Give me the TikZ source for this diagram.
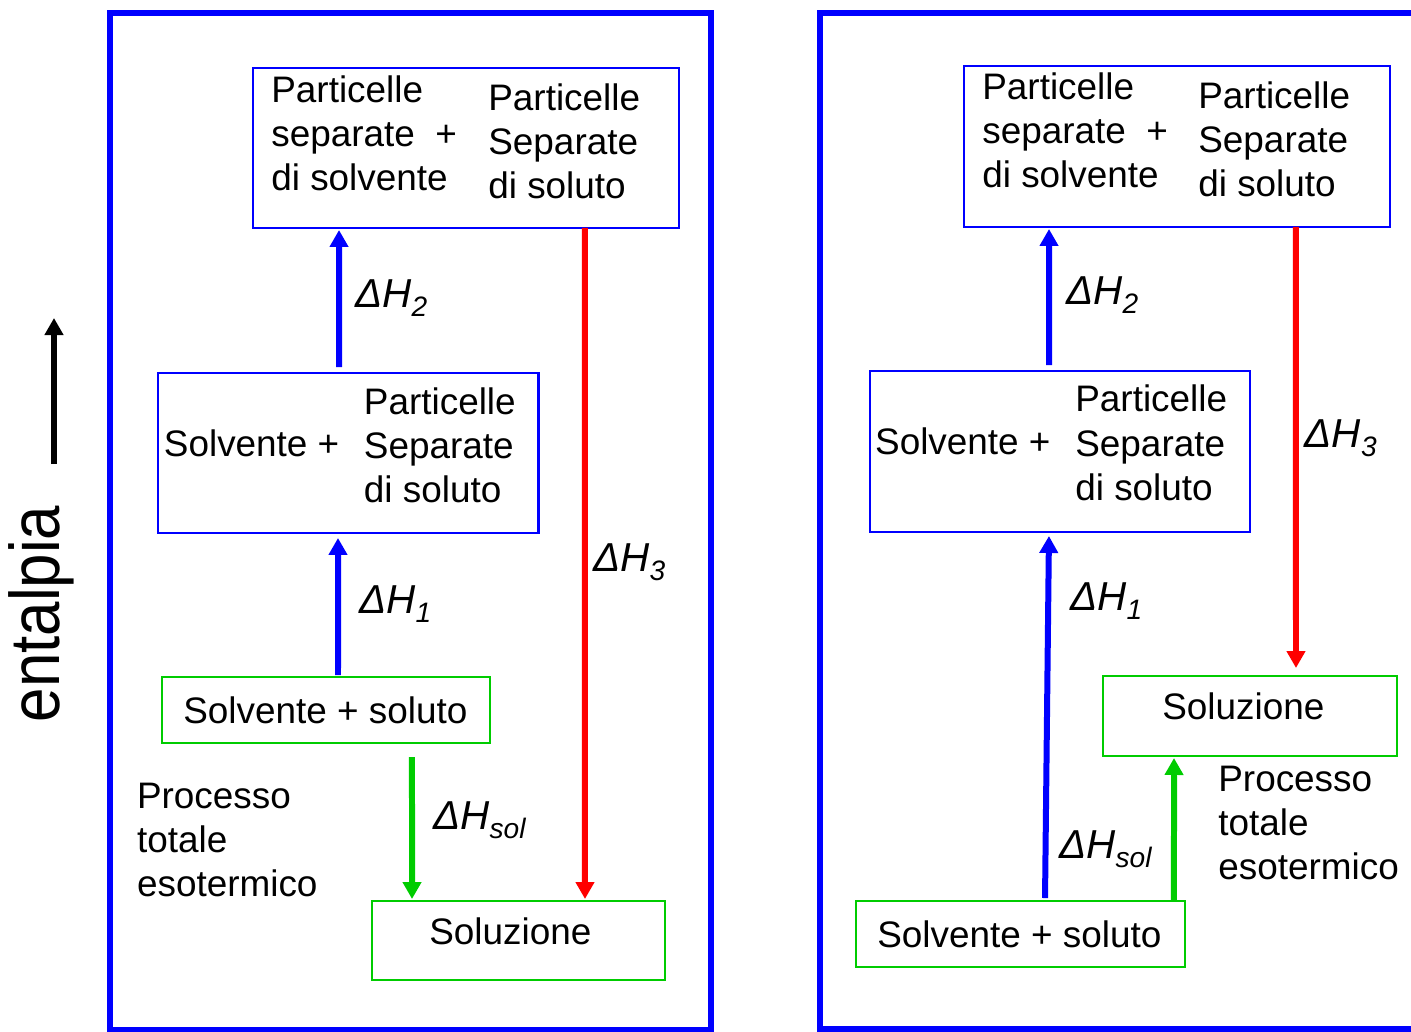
\documentclass[tikz,border=0pt]{standalone}
\usepackage{fontspec}
\setmainfont{Liberation Sans}
\usetikzlibrary{arrows.meta}

\definecolor{solgreen}{RGB}{0,204,0}

% Delta H label with a lowered index
\newcommand{\dHlab}[1]{{\fontsize{23}{23}\selectfont\itshape ΔH\raisebox{-5.5pt}{\fontsize{16}{16}\selectfont #1}}}
% left aligned column of lines, baseline on the first one
\newcommand{\colstack}[1]{\begin{tabular}[t]{@{}l@{}}#1\end{tabular}}

\tikzset{
  frame/.style={draw=blue, line width=0.12cm},
  statebox/.style={line width=1.2pt, inner sep=0pt, outer sep=0pt},
  txt/.style={anchor=base west, inner sep=0pt, font=\fontsize{21}{25.3}\selectfont},
  dhtxt/.style={anchor=base west, inner sep=0pt},
  enarrow/.style={line width=0.12cm, -{Triangle[width=0.36cm,length=0.34cm]}}
}

\begin{document}
\begin{tikzpicture}[x=0.02cm, y=-0.02cm]
\useasboundingbox (0,0) rectangle (1411,1032);

% enthalpy axis
\node[anchor=base, rotate=90, inner sep=0pt, font=\fontsize{40}{40}\selectfont] (enlab) at (59,614) {\scalebox{0.88}[1]{entalpia}};
\coordinate (enlow) at (54,464);
\coordinate (enhigh) at (54,318);
\draw[enarrow] (enlow) -- (enhigh);

% ---------- left panel ----------
\draw[frame] (110,13.3) rectangle (710.5,1029.5);

\node[statebox, draw=blue, minimum width=8.52cm, minimum height=3.2cm] (topL) at (466,148) {};
\node[txt] (topLa) at (271,102) {\colstack{Particelle\\separate~~+\\di solvente}};
\node[txt] (topLb) at (488,110) {\colstack{Particelle\\Separate\\di soluto}};

\node[statebox, draw=blue, minimum width=7.61cm, minimum height=3.2cm] (midL) at (348.3,453) {};
\node[txt] (midLa) at (163.6,456) {Solvente +};
\node[txt] (midLb) at (363.6,414) {\colstack{Particelle\\Separate\\di soluto}};

\node[statebox, draw=solgreen, minimum width=6.56cm, minimum height=1.32cm] (solvL) at (326,710) {};
\node[txt] (solvLa) at (183,723) {Solvente + soluto};

\node[statebox, draw=solgreen, minimum width=5.86cm, minimum height=1.58cm] (solL) at (518.5,940.5) {};
\node[txt] (solLa) at (429,944) {Soluzione};

\node[txt] (procL) at (136.7,808) {\colstack{Processo\\totale\\esotermico}};

\draw[enarrow, blue, shorten <=0.12cm, shorten >=0.04cm] ([xshift=-0.186cm]midL.north) -- ([xshift=-2.54cm]topL.south);
\draw[enarrow, blue, shorten <=0.04cm, shorten >=0.1cm] ([xshift=0.24cm]solvL.north) -- ([xshift=-0.206cm]midL.south);
\draw[enarrow, red, shorten >=0.04cm] ([xshift=2.38cm]topL.south) -- ([xshift=1.33cm]solL.north);
\draw[enarrow, solgreen, shorten <=0.28cm, shorten >=0.04cm] ([xshift=1.72cm]solvL.south) -- ([xshift=-2.13cm]solL.north);

\node[dhtxt] (dh2L) at (355,307) {\dHlab{2}};
\node[dhtxt] (dh1L) at (359,613) {\dHlab{1}};
\node[dhtxt] (dh3L) at (593,571) {\dHlab{3}};
\node[dhtxt] (dhsL) at (433,829) {\dHlab{sol}};

% ---------- right panel ----------
\draw[frame] (1430,12.7) -- (820,12.7) -- (820,1029) -- (1430,1029);

\node[statebox, draw=blue, minimum width=8.53cm, minimum height=3.22cm] (topR) at (1176.9,146.5) {};
\node[txt] (topRa) at (982,99) {\colstack{Particelle\\separate~~+\\di solvente}};
\node[txt] (topRb) at (1198,108) {\colstack{Particelle\\Separate\\di soluto}};

\node[statebox, draw=blue, minimum width=7.6cm, minimum height=3.22cm] (midR) at (1059.6,451.2) {};
\node[txt] (midRa) at (874.8,454) {Solvente +};
\node[txt] (midRb) at (1075,411.7) {\colstack{Particelle\\Separate\\di soluto}};

\node[statebox, draw=solgreen, minimum width=5.88cm, minimum height=1.6cm] (solR) at (1250,716) {};
\node[txt] (solRa) at (1162,719) {Soluzione};

\node[statebox, draw=solgreen, minimum width=6.58cm, minimum height=1.32cm] (solvR) at (1020.5,934) {};
\node[txt] (solvRa) at (877,947) {Solvente + soluto};

\node[txt] (procR) at (1218,791) {\colstack{Processo\\totale\\esotermico}};

\draw[enarrow, blue, shorten <=0.114cm, shorten >=0.04cm] ([xshift=-0.212cm]midR.north) -- ([xshift=-2.558cm]topR.south);
\draw[enarrow, blue, shorten <=0.06cm, shorten >=0.086cm] ([xshift=0.49cm]solvR.north) -- ([xshift=-0.212cm]midR.south);
\draw[enarrow, red, shorten >=0.16cm] ([xshift=2.382cm]topR.south) -- ([xshift=0.92cm]solR.north);
\draw[enarrow, solgreen, shorten >=0.04cm] ([xshift=3.07cm]solvR.north) -- ([xshift=-1.52cm]solR.south);

\node[dhtxt] (dh2R) at (1066,304) {\dHlab{2}};
\node[dhtxt] (dh1R) at (1070,610) {\dHlab{1}};
\node[dhtxt] (dh3R) at (1304.5,447) {\dHlab{3}};
\node[dhtxt] (dhsR) at (1059,858) {\dHlab{sol}};

\end{tikzpicture}
\end{document}
